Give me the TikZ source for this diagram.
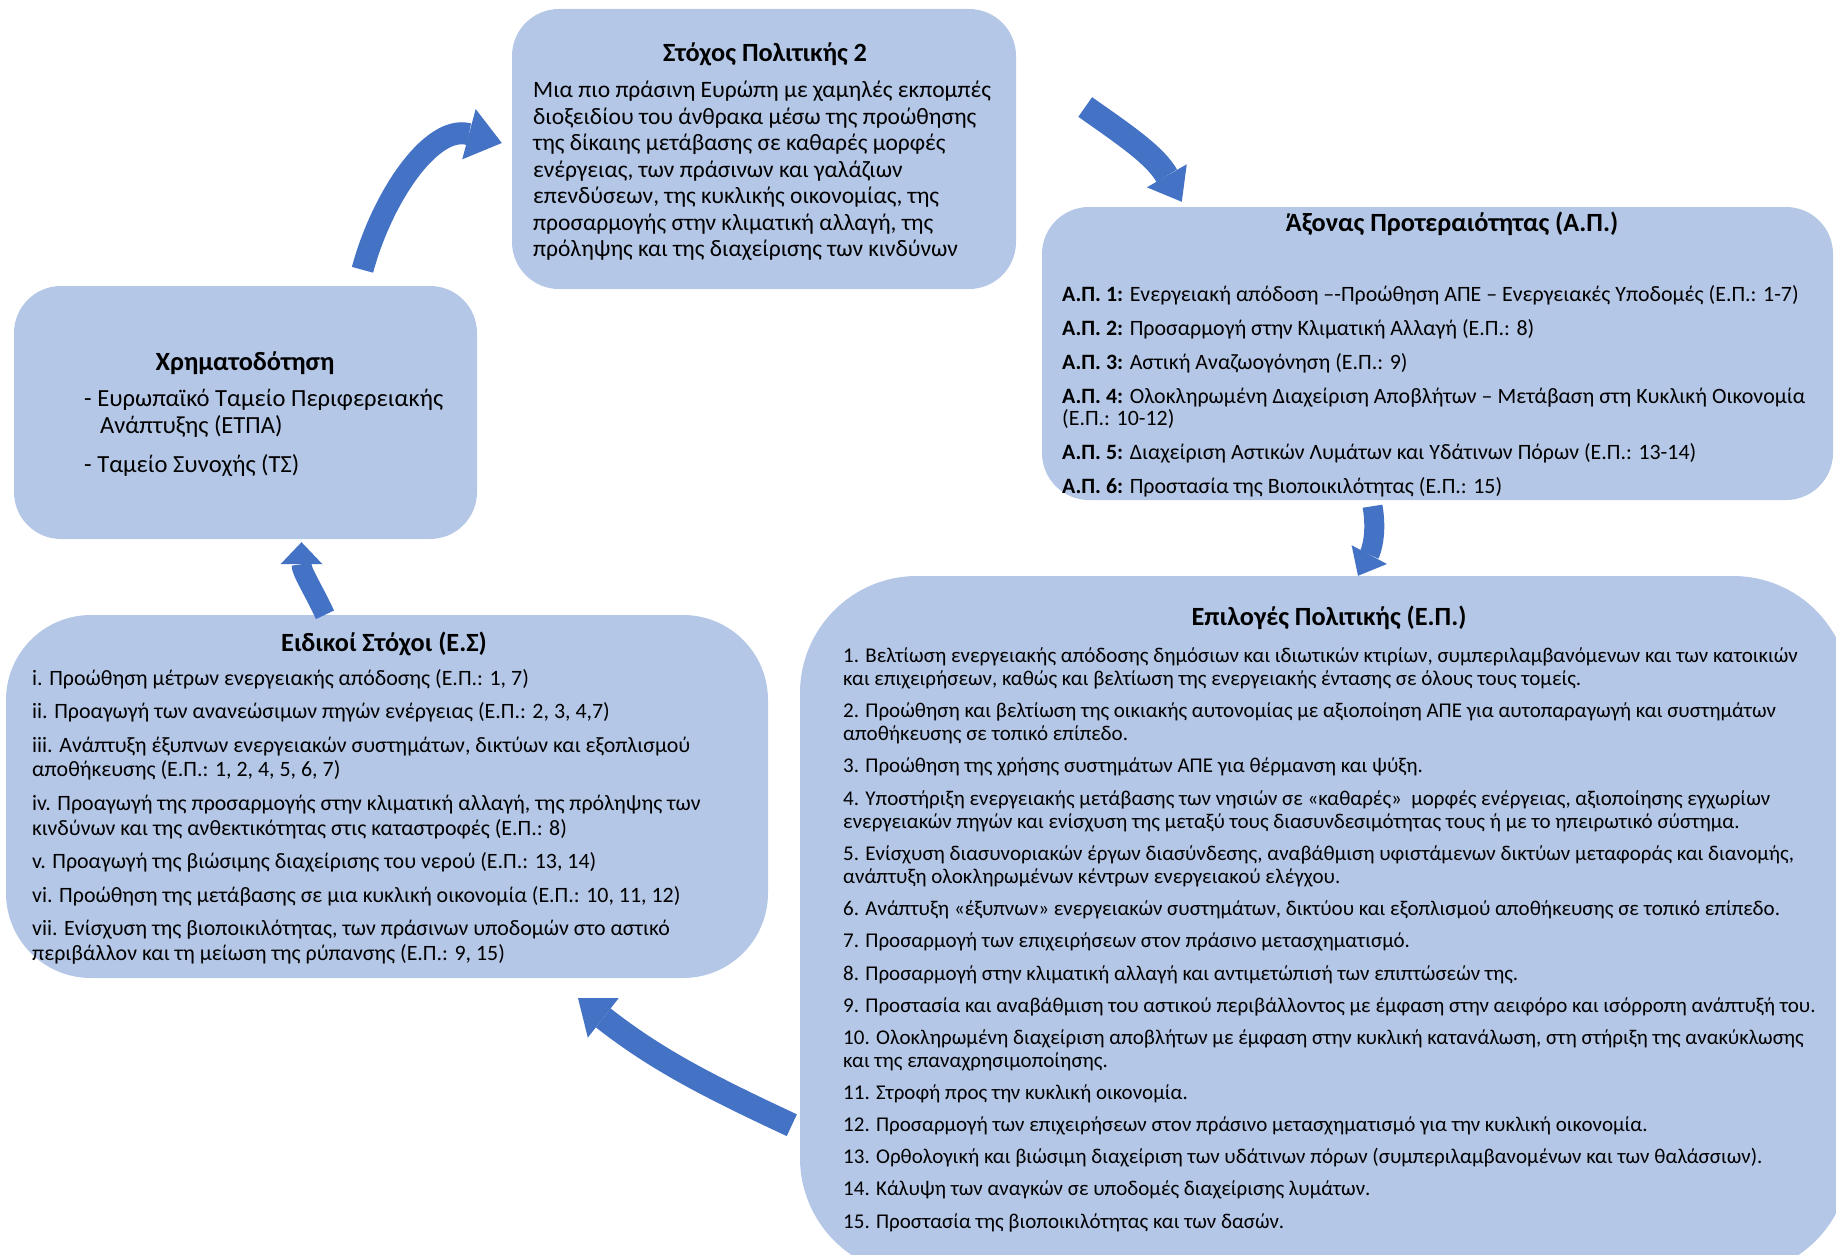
\documentclass[tikz,border=0pt]{standalone}
\usepackage{fontspec}
\setmainfont{Carlito}
\usetikzlibrary{arrows.meta}

\definecolor{panelblue}{HTML}{B4C7E7}
\definecolor{arrowblue}{HTML}{4472C4}

\tikzset{
  panel/.style={
    fill=panelblue,
    rounded corners=#1
  },
  panel/.default=47pt,
  heading/.style={
    inner sep=0pt,
    font=\fontsize{26.3}{30}\selectfont\bfseries
  },
  listtext/.style={
    align=left,
    anchor=base west,
    inner sep=0pt
  },
  cyclearrow/.style={
    draw=arrowblue,
    line width=#1
  }
}

\begin{document}
\begin{tikzpicture}[x=1pt, y=-1pt]
  \useasboundingbox (0,0) rectangle (1836,1255);
  \clip (0,0) rectangle (1836,1255);

  % boxes
  \node[panel, minimum width=504pt, minimum height=280pt] (goal) at (764,149) {};
  \node[panel, minimum width=791pt, minimum height=293pt] (axis) at (1437.5,353.5) {};
  \node[panel, minimum width=463pt, minimum height=253pt] (fund) at (245.5,412.5) {};
  \node[panel=85pt, minimum width=762pt, minimum height=363pt] (specific) at (387,796.5) {};
  \node[panel=117pt, minimum width=1050pt, minimum height=699pt] (options) at (1325,925.5) {};

  % titles
  \node[heading] (goal-title) at (765,54) {Στόχος Πολιτικής 2};
  \node[heading] (axis-title) at (1452,224) {Άξονας Προτεραιότητας (Α.Π.)};
  \node[heading] (fund-title) at (245,363) {Χρηματοδότηση};
  \node[heading] (specific-title) at (384,644) {Ειδικοί Στόχοι (Ε.Σ)};
  \node[heading] (options-title) at (1329,618) {Επιλογές Πολιτικής (Ε.Π.)};

  % texts (placed by the baseline of their last line)
  \node[listtext, font=\fontsize{23.5}{26.5}\selectfont] (goal-text) at (533,256.5)
    {Μια πιο πράσινη Ευρώπη με χαμηλές εκπομπές\\
     διοξειδίου του άνθρακα μέσω της προώθησης\\
     της δίκαιης μετάβασης σε καθαρές μορφές\\
     ενέργειας, των πράσινων και γαλάζιων\\
     επενδύσεων, της κυκλικής οικονομίας, της\\
     προσαρμογής στην κλιματική αλλαγή, της\\
     πρόληψης και της διαχείρισης των κινδύνων};

  \node[listtext, font=\fontsize{21.9}{22.3}\selectfont] (axis-text) at (1062,493.5)
    {\textbf{Α.Π. 1:} Ενεργειακή απόδοση –-Προώθηση ΑΠΕ – Ενεργειακές Υποδομές (Ε.Π.: 1-7)\\[11.7pt]
     \textbf{Α.Π. 2:} Προσαρμογή στην Κλιματική Αλλαγή (Ε.Π.: 8)\\[11.7pt]
     \textbf{Α.Π. 3:} Αστική Αναζωογόνηση (Ε.Π.: 9)\\[11.7pt]
     \textbf{Α.Π. 4:} Ολοκληρωμένη Διαχείριση Αποβλήτων – Μετάβαση στη Κυκλική Οικονομία\\
     (Ε.Π.: 10-12)\\[11.7pt]
     \textbf{Α.Π. 5:} Διαχείριση Αστικών Λυμάτων και Υδάτινων Πόρων (Ε.Π.: 13-14)\\[11.7pt]
     \textbf{Α.Π. 6:} Προστασία της Βιοποικιλότητας (Ε.Π.: 15)};

  \node[listtext, font=\fontsize{24.6}{27}\selectfont] (fund-text) at (84,472)
    {- Ευρωπαϊκό Ταμείο Περιφερειακής\\
     \hspace*{16pt}Ανάπτυξης (ΕΤΠΑ)\\[12pt]
     - Ταμείο Συνοχής (ΤΣ)};

  \node[listtext, font=\fontsize{21.9}{24.6}\selectfont] (specific-text) at (32,960.5)
    {i. Προώθηση μέτρων ενεργειακής απόδοσης (Ε.Π.: 1, 7)\\[9pt]
     ii. Προαγωγή των ανανεώσιμων πηγών ενέργειας (Ε.Π.: 2, 3, 4,7)\\[9pt]
     iii. Ανάπτυξη έξυπνων ενεργειακών συστημάτων, δικτύων και εξοπλισμού\\
     αποθήκευσης (Ε.Π.: 1, 2, 4, 5, 6, 7)\\[9pt]
     iv. Προαγωγή της προσαρμογής στην κλιματική αλλαγή, της πρόληψης των\\
     κινδύνων και της ανθεκτικότητας στις καταστροφές (Ε.Π.: 8)\\[9pt]
     v. Προαγωγή της βιώσιμης διαχείρισης του νερού (Ε.Π.: 13, 14)\\[9pt]
     vi. Προώθηση της μετάβασης σε μια κυκλική οικονομία (Ε.Π.: 10, 11, 12)\\[9pt]
     vii. Ενίσχυση της βιοποικιλότητας, των πράσινων υποδομών στο αστικό\\
     περιβάλλον και τη μείωση της ρύπανσης (Ε.Π.: 9, 15)};

  \node[listtext, font=\fontsize{21}{23.3}\selectfont] (options-text) at (843,1228)
    {1. Βελτίωση ενεργειακής απόδοσης δημόσιων και ιδιωτικών κτιρίων, συμπεριλαμβανόμενων και των κατοικιών\\
     και επιχειρήσεων, καθώς και βελτίωση της ενεργειακής έντασης σε όλους τους τομείς.\\[8.8pt]
     2. Προώθηση και βελτίωση της οικιακής αυτονομίας με αξιοποίηση ΑΠΕ για αυτοπαραγωγή και συστημάτων\\
     αποθήκευσης σε τοπικό επίπεδο.\\[8.8pt]
     3. Προώθηση της χρήσης συστημάτων ΑΠΕ για θέρμανση και ψύξη.\\[8.8pt]
     4. Υποστήριξη ενεργειακής μετάβασης των νησιών σε «καθαρές» \ μορφές ενέργειας, αξιοποίησης εγχωρίων\\
     ενεργειακών πηγών και ενίσχυση της μεταξύ τους διασυνδεσιμότητας τους ή με το ηπειρωτικό σύστημα.\\[8.8pt]
     5. Ενίσχυση διασυνοριακών έργων διασύνδεσης, αναβάθμιση υφιστάμενων δικτύων μεταφοράς και διανομής,\\
     ανάπτυξη ολοκληρωμένων κέντρων ενεργειακού ελέγχου.\\[8.8pt]
     6. Ανάπτυξη «έξυπνων» ενεργειακών συστημάτων, δικτύου και εξοπλισμού αποθήκευσης σε τοπικό επίπεδο.\\[8.8pt]
     7. Προσαρμογή των επιχειρήσεων στον πράσινο μετασχηματισμό.\\[8.8pt]
     8. Προσαρμογή στην κλιματική αλλαγή και αντιμετώπισή των επιπτώσεών της.\\[8.8pt]
     9. Προστασία και αναβάθμιση του αστικού περιβάλλοντος με έμφαση στην αειφόρο και ισόρροπη ανάπτυξή του.\\[8.8pt]
     10. Ολοκληρωμένη διαχείριση αποβλήτων με έμφαση στην κυκλική κατανάλωση, στη στήριξη της ανακύκλωσης\\
     και της επαναχρησιμοποίησης.\\[8.8pt]
     11. Στροφή προς την κυκλική οικονομία.\\[8.8pt]
     12. Προσαρμογή των επιχειρήσεων στον πράσινο μετασχηματισμό για την κυκλική οικονομία.\\[8.8pt]
     13. Ορθολογική και βιώσιμη διαχείριση των υδάτινων πόρων (συμπεριλαμβανομένων και των θαλάσσιων).\\[8.8pt]
     14. Κάλυψη των αναγκών σε υποδομές διαχείρισης λυμάτων.\\[8.8pt]
     15. Προστασία της βιοποικιλότητας και των δασών.};

  % curved arrows round the cycle
  \draw[cyclearrow=22pt, -{Triangle[width=52pt,length=34pt,line width=0pt]}]
    ([xshift=117pt,yshift=16pt]fund.north) to[out=75, in=165] ([xshift=-10pt,yshift=6pt]goal.west);
  \draw[cyclearrow=24pt, -{Triangle[width=46pt,length=30pt,line width=0pt]}]
    ([xshift=69pt,yshift=42pt]goal.east) to[out=-35, in=120] ([xshift=140pt,yshift=5pt]axis.north west);
  \draw[cyclearrow=20pt, -{Triangle[width=40pt,length=24pt,line width=0pt]}]
    ([xshift=-65pt,yshift=-6pt]axis.south) to[out=-80, in=62] ([xshift=33pt]options.north);
  \draw[cyclearrow=20pt, -{Triangle[width=42pt,length=22pt,line width=0pt]}]
    ([xshift=-62pt]specific.north) to[out=115, in=-90] ([xshift=56pt,yshift=-3pt]fund.south);
  \draw[cyclearrow=24pt, -{Triangle[width=50pt,length=32pt,line width=0pt]}]
    ([xshift=-8pt,yshift=150pt]options.south west) to[out=155, in=-38] ([xshift=191pt,yshift=-20pt]specific.south);
\end{tikzpicture}
\end{document}
